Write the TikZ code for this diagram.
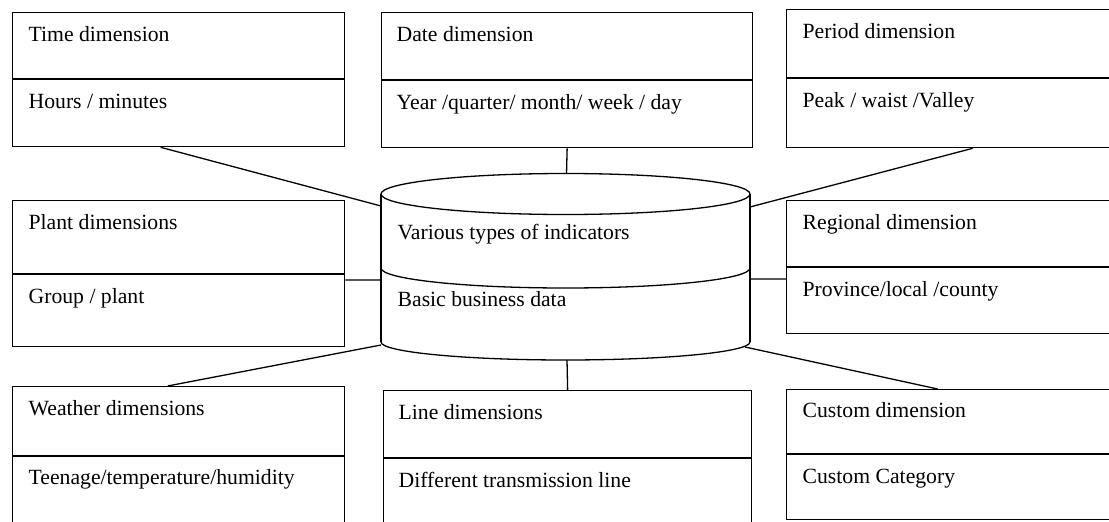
\documentclass[tikz,border=0pt]{standalone}
\usepackage{fontspec}
\setmainfont{Liberation Serif}
\usepackage{tikz}
\usetikzlibrary{positioning}

\begin{document}
\begin{tikzpicture}[x=1pt, y=-1pt, line width=1.3pt,
dimbox/.style ={draw, rectangle, inner sep=0pt, anchor=north west},
lbl/.style ={anchor=base west, inner sep=0pt, font=\fontsize{21.7}{26}\selectfont}]
\useasboundingbox (0,0) rectangle (1109,522);
\clip (0,0) rectangle (1109,522);
% boxes
\node[dimbox, minimum width=332pt, minimum height=134pt] (time) at (12,12) {};
\node[dimbox, minimum width=371pt, minimum height=135pt] (date) at (381,12) {};
\node[dimbox, minimum width=372pt, minimum height=138pt] (period) at (786,9) {};
\node[dimbox, minimum width=332pt, minimum height=146pt] (plant) at (12,200) {};
\node[dimbox, minimum width=372pt, minimum height=133pt] (regional) at (786,200) {};
\node[dimbox, minimum width=332pt, minimum height=150pt] (weather) at (12,386) {};
\node[dimbox, minimum width=368pt, minimum height=150pt] (line) at (383,390) {};
\node[dimbox, minimum width=372pt, minimum height=130pt] (custom) at (786,389) {};
\draw (time.west |- 0,79) -- (time.east |- 0,79)
(date.west |- 0,80) -- (date.east |- 0,80)
(period.west |- 0,78) -- (period.east |- 0,78)
(plant.west |- 0,274) -- (plant.east |- 0,274)
(regional.west |- 0,267) -- (regional.east |- 0,267)
(weather.west |- 0,456) -- (weather.east |- 0,456)
(line.west |- 0,458) -- (line.east |- 0,458)
(custom.west |- 0,454) -- (custom.east |- 0,454);
\node[lbl] (time1) at (28,41) {Time dimension};
\node[lbl] (time2) at (28,108) {Hours / minutes};
\node[lbl] (date1) at (396,41) {Date dimension};
\node[lbl] (date2) at (396,109) {Year /quarter/ month/ week / day};
\node[lbl] (period1) at (802,38) {Period dimension};
\node[lbl] (period2) at (802,107) {Peak / waist /Valley};
\node[lbl] (plant1) at (28,229) {Plant dimensions};
\node[lbl] (plant2) at (28,303) {Group / plant};
\node[lbl] (regional1) at (802,229) {Regional dimension};
\node[lbl] (regional2) at (802,296) {Province/local /county};
\node[lbl] (weather1) at (28,415) {Weather dimensions};
\node[lbl] (weather2) at (28,484) {Teenage/temperature/humidity};
\node[lbl] (line1) at (398,419) {Line dimensions};
\node[lbl] (line2) at (398,487) {Different transmission line};
\node[lbl] (custom1) at (802,417) {Custom dimension};
\node[lbl] (custom2) at (802,483) {Custom Category};
% database
\draw (565.5,194) ellipse [x radius=184.5pt, y radius=20.5pt];
\draw (381,194) -- (381,342) (750,194) -- (750,342);
\draw (381,268) arc [start angle=180, end angle=360, x radius=184.5pt, y radius=20pt];
\draw (381,342) arc [start angle=180, end angle=360, x radius=184.5pt, y radius=18pt];
\node[lbl] (db1) at (397,239) {Various types of indicators};
\node[lbl] (db2) at (397,306) {Basic business data};
\coordinate (db-n) at (566.5,174);
\coordinate (db-s) at (567,360);
\coordinate (db-nw) at (381,206);
\coordinate (db-ne) at (750,207);
\coordinate (db-w) at (381,280);
\coordinate (db-e) at (750,279);
\coordinate (db-sw) at (381,345);
\coordinate (db-se) at (745,347);
% links
\draw ([xshift=-18pt]time.south) -- (db-nw)
(date.south) -- (db-n)
(period.south) -- (db-ne)
(plant.east |- db-w) -- (db-w)
(regional.west |- db-e) -- (db-e)
([xshift=-11pt]weather.north) -- (db-sw)
(line.north) -- (db-s)
([xshift=-35pt]custom.north) -- (db-se);
\end{tikzpicture}
\end{document}
